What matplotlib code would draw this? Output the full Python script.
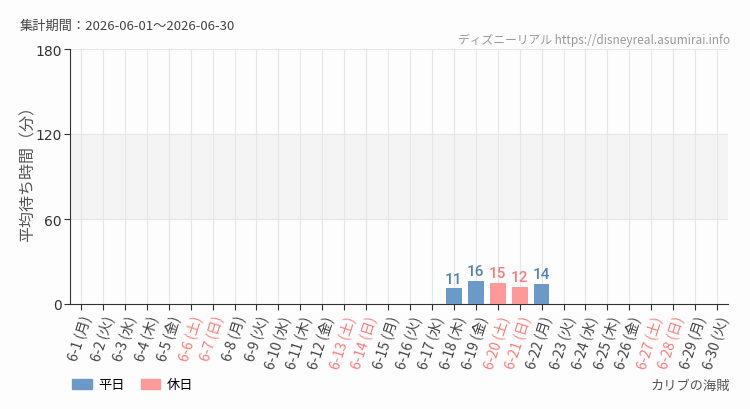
import matplotlib
matplotlib.use('Agg')
import matplotlib.pyplot as plt
from matplotlib.patches import Patch

plt.rcParams['font.family'] = ['Noto Sans CJK JP', 'DejaVu Sans']

# データ
days = [f'6-{d}' for d in range(1, 31)]
weekdays = ['月', '火', '水', '木', '金', '土', '日'] * 5
weekdays = weekdays[:30]
holiday = [w in ('土', '日') for w in weekdays]
values = [None] * 17 + [11, 16, 15, 12, 14] + [None] * 8

labels = [f'{d} ({w})' for d, w in zip(days, weekdays)]

bg = '#fcfdfc'
blue = '#6b9ac8'
pink = '#ff9898'
blue_txt = '#4f82b8'
pink_txt = '#ff7a7a'

fig = plt.figure(figsize=(7.5, 4.1), dpi=100, facecolor=bg)
ax = fig.add_axes([70 / 750, 1 - 305 / 410, 658 / 750, 255 / 410])
ax.set_facecolor(bg)

x = list(range(len(days)))
for i, v in enumerate(values):
    if v is None:
        continue
    c = pink if holiday[i] else blue
    ax.bar(i, v, width=0.72, color=c, zorder=3)
    ax.text(i, v + 2, str(v), ha='center', va='bottom', fontsize=11,
            color=pink_txt if holiday[i] else blue_txt, family=['Roboto', 'DejaVu Sans'],
            fontweight='medium', fontstretch='condensed')

ax.axhspan(60, 120, color='#f4f4f4', zorder=0)
ax.set_xlim(-0.5, 29.5)
ax.set_ylim(0, 180)
ax.set_yticks([0, 60, 120, 180])
ax.set_yticklabels(['0', '60', '120', '180'], fontsize=10, color='#333333',
                   family=['DejaVu Sans'])
ax.set_xticks(x)
ax.set_xticklabels(labels, rotation=72, ha='right', rotation_mode='anchor', fontsize=10)
for t, h in zip(ax.get_xticklabels(), holiday):
    t.set_color(pink_txt if h else '#444444')

ax.grid(axis='both', color='#e6e6e6', linewidth=0.8, zorder=1)
ax.set_axisbelow(True)
for s in ['top', 'right']:
    ax.spines[s].set_visible(False)
ax.spines['left'].set_color('#333333')
ax.spines['bottom'].set_color('#333333')
ax.tick_params(axis='x', length=4, color='#333333', pad=3)
ax.tick_params(axis='y', length=4, color='#333333', pad=2)

ax.set_ylabel('平均待ち時間（分）', fontsize=11.5, color='#555555')
ax.yaxis.set_label_coords(-33 / 658, 0.53)

fig.text(20 / 750, 1 - 26 / 410, '集計期間：2026-06-01～2026-06-30', fontsize=9.5,
         color='#444444', va='center')
fig.text(730 / 750, 1 - 40 / 410, 'ディズニーリアル https://disneyreal.asumirai.info',
         fontsize=8.5, color='#999999', ha='right', va='center')

handles = [Patch(color=blue, label='平日'), Patch(color=pink, label='休日')]
fig.legend(handles=handles, loc='center left', bbox_to_anchor=(60 / 750, 1 - 386 / 410),
           ncol=2, frameon=False, fontsize=9.5, handlelength=1.5, handleheight=0.8,
           columnspacing=1.2, handletextpad=0.5)
fig.text(730 / 750, 1 - 386 / 410, 'カリブの海賊', fontsize=9.5, color='#555555',
         ha='right', va='center')

fig.savefig('out.png', dpi=100, facecolor=bg)
